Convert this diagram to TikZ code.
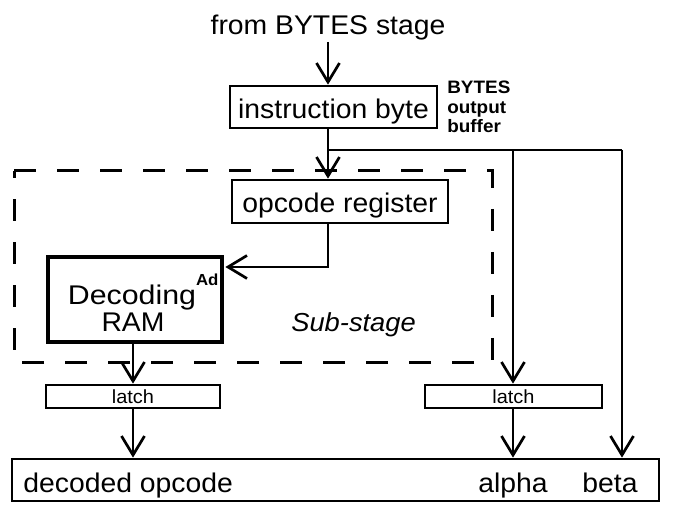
\documentclass[tikz,border=0pt]{standalone}
\usepackage{fontspec}
\setmainfont[FakeStretch=1.05]{Liberation Sans}
\usetikzlibrary{arrows.meta}
\begin{document}
\begin{tikzpicture}[x=1pt,y=-1pt,line width=2.7pt,
  box/.style={draw,inner sep=0pt,text height=24pt,text depth=1pt,font=\fontsize{27}{27}\selectfont},
  latchbox/.style={draw,inner sep=0pt,minimum height=23pt,text height=16pt,text depth=1pt,font=\fontsize{19}{19}\selectfont},
  txt/.style={inner sep=0pt,font=\fontsize{27}{27}\selectfont},
  arr/.style={-{Straight Barb[length=19pt,width=23pt]}},
  dashbox/.style={dash pattern=on 22pt off 21pt,line width=3pt}]
\useasboundingbox (0,0) rectangle (673,505);
% texts and boxes
\node[txt,anchor=base] (title) at (328,35) {from BYTES stage};
\node[box,minimum width=207pt,minimum height=42pt] (ib) at (333.5,107) {instruction byte};
\node[inner sep=0pt,anchor=north west,align=left,font=\fontsize{18}{19.5}\selectfont\bfseries] (buf) at (446,80) {BYTES\\output\\buffer};
\node[box,minimum width=216pt,minimum height=43pt] (op) at (340,201.5) {opcode register};
\node[draw,line width=4.8pt,inner sep=0pt,minimum width=174pt,minimum height=85pt] (dec) at (135,299.5) {};
\node[txt,anchor=base] (dectxt) at (132,305) {\scalebox{1.07}[1]{Decoding}\rlap{\raisebox{19pt}{\fontsize{16}{16}\selectfont\bfseries Ad}}};
\node[txt,anchor=base] (ram) at (133,332) {RAM};
\node[txt,anchor=base west,font=\fontsize{26}{26}\selectfont\itshape] (sub) at (290,332) {Sub-stage};
\node[latchbox,minimum width=174pt] (l1) at (133,396.5) {latch};
\node[latchbox,minimum width=177pt] (l2) at (513.5,396.5) {latch};
\node[draw,inner sep=0pt,minimum width=647pt,minimum height=42pt] (out) at (335.5,480) {};
\node[txt,anchor=base west] (dop) at (22,493) {decoded opcode};
\node[txt,anchor=base] (alpha) at (513,493) {alpha};
\node[txt,anchor=base] (beta) at (610,493) {beta};
% sub-stage boundary
\draw[dashbox] (14,171) -- (492,171) -- (492,363) -- (14,363) -- cycle;
% connectors
\coordinate (br) at (328,150);
\coordinate (aj) at (513,150);
\coordinate (bj) at (622,150);
\coordinate (dj) at (328,267);
\draw[arr] (title.south) -- (title.south |- ib.north);
\draw[arr] (title.south |- ib.south) -- (title.south |- op.north);
\draw (br) -- (bj);
\draw[arr] (aj) -- (aj |- l2.north);
\draw[arr] (bj) -- (bj |- out.north);
\draw[arr] (title.south |- op.south) -- (dj) -- ([xshift=1pt]dj -| dec.east);
\draw[arr] (l1.north |- dec.south) -- (l1.north);
\draw[arr] (l1.south) -- (l1.south |- out.north);
\draw[arr] (aj |- l2.south) -- (aj |- out.north);
\end{tikzpicture}
\end{document}
